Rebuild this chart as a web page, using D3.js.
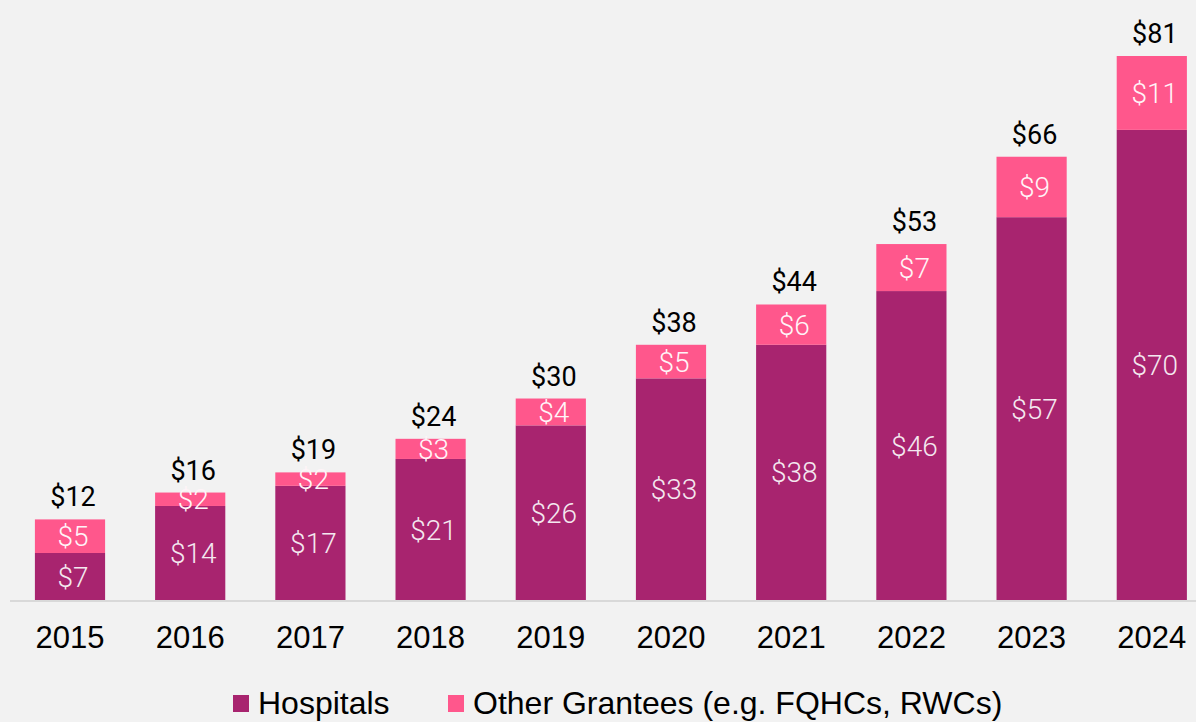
<!DOCTYPE html>
<html>
<head>
<meta charset="utf-8">
<script src="https://cdn.jsdelivr.net/npm/d3@7"></script>
<style>
  body { margin: 0; background: #f2f2f2; }
  svg { display: block; }
</style>
</head>
<body>
<svg id="chart" width="1196" height="722"></svg>
<script>
const years = ["2015", "2016", "2017", "2018", "2019", "2020", "2021", "2022", "2023", "2024"]
const hospitals = [7, 14, 17, 21, 26, 33, 38, 46, 57, 70]
const others = [5, 2, 2, 3, 4, 5, 6, 7, 9, 11]
const totals = [12, 16, 19, 24, 30, 38, 44, 53, 66, 81]
const seriesNames = ["Hospitals", "Other Grantees (e.g. FQHCs, RWCs)"]
const colours = ["#a8246f", "#ff578c"]

const svg = d3.select("#chart")
const width = 1196, height = 722
const base = 600

svg.append("rect").attr("width", width).attr("height", height).attr("fill", "#f2f2f2")

let x = d3.scaleBand()
    .domain(years)
    .range([9.9, 9.9 + 120.2 * years.length])
    .paddingInner(0.416)
    .paddingOuter(0.208)

let y = d3.scaleLinear()
    .domain([0, 81])
    .range([base, 56])

let rows = years.map((yr, i) => ({ year: yr, h: hospitals[i], o: others[i], t: totals[i] }))

// baseline
svg.append("line")
    .attr("x1", 10).attr("x2", width)
    .attr("y1", base + 1).attr("y2", base + 1)
    .attr("stroke", "#d9d9d9")
    .attr("stroke-width", 2)

let bars = svg.append("g").selectAll("g")
    .data(rows)
    .enter().append("g")

bars.append("rect")
    .attr("x", d => x(d.year))
    .attr("width", x.bandwidth())
    .attr("y", d => y(d.h))
    .attr("height", d => base - y(d.h))
    .attr("fill", colours[0])

bars.append("rect")
    .attr("x", d => x(d.year))
    .attr("width", x.bandwidth())
    .attr("y", d => y(d.h + d.o))
    .attr("height", d => y(d.h) - y(d.h + d.o))
    .attr("fill", colours[1])

// segment labels
bars.append("text")
    .attr("x", d => x(d.year) + x.bandwidth() / 2 + 3)
    .attr("y", d => (y(d.h) + base) / 2)
    .attr("dy", "0.36em")
    .attr("text-anchor", "middle")
    .style("font-family", "Roboto, sans-serif")
    .style("font-weight", 300)
    .style("font-size", "28px")
    .attr("fill", "#f4e8f0")
    .text(d => "$" + d.h)

bars.append("text")
    .attr("x", d => x(d.year) + x.bandwidth() / 2 + 3)
    .attr("y", d => (y(d.h) + y(d.h + d.o)) / 2)
    .attr("dy", "0.36em")
    .attr("text-anchor", "middle")
    .style("font-family", "Roboto, sans-serif")
    .style("font-weight", 300)
    .style("font-size", "28px")
    .attr("fill", "#fff4f8")
    .text(d => "$" + d.o)

// totals
bars.append("text")
    .attr("x", d => x(d.year) + x.bandwidth() / 2 + 3)
    .attr("y", d => y(d.t) - 13)
    .attr("text-anchor", "middle")
    .style("font-family", "Roboto, sans-serif")
    .style("font-size", "27px")
    .attr("fill", "#000")
    .text(d => "$" + d.t)

// x axis labels
let xAxis = svg.append("g")
    .attr("transform", "translate(0," + base + ")")
    .call(d3.axisBottom(x).tickSize(0).tickPadding(0))
xAxis.select(".domain").remove()
xAxis.selectAll("text")
    .attr("y", 48)
    .attr("dy", 0)
    .style("font-family", "'Liberation Sans', Arial, sans-serif")
    .style("font-size", "31px")
    .attr("fill", "#000")

// legend
let legendX = [233, 448]
let legend = svg.append("g").selectAll("g")
    .data(seriesNames)
    .enter().append("g")
    .attr("transform", (d, i) => "translate(" + legendX[i] + ",695)")
legend.append("rect")
    .attr("width", 16).attr("height", 17)
    .attr("fill", (d, i) => colours[i])
legend.append("text")
    .attr("x", 25)
    .attr("y", 19)
    .style("font-family", "'Liberation Sans', Arial, sans-serif")
    .style("font-size", "32px")
    .attr("fill", "#000")
    .text(d => d)
</script>
</body>
</html>
